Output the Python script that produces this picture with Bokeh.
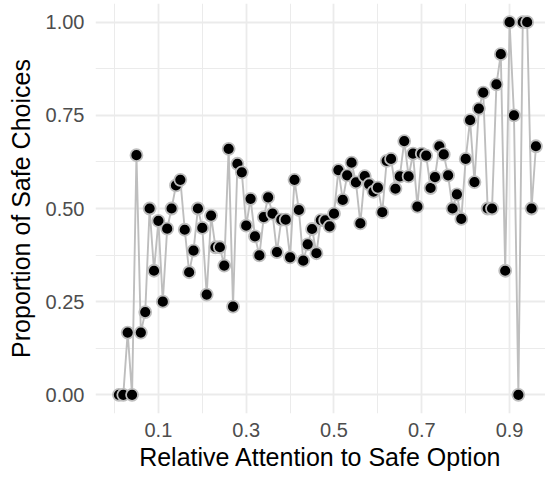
from bokeh.plotting import figure
from bokeh.models import Range1d, FixedTicker, NumeralTickFormatter, ColumnDataSource
from bokeh.embed import file_html
from bokeh.resources import INLINE

attention = [0.01, 0.02, 0.03, 0.04, 0.05, 0.06, 0.07, 0.08, 0.09, 0.10,
             0.11, 0.12, 0.13, 0.14, 0.15, 0.16, 0.17, 0.18, 0.19, 0.20,
             0.21, 0.22, 0.23, 0.24, 0.25, 0.26, 0.27, 0.28, 0.29, 0.30,
             0.31, 0.32, 0.33, 0.34, 0.35, 0.36, 0.37, 0.38, 0.39, 0.40,
             0.41, 0.42, 0.43, 0.44, 0.45, 0.46, 0.47, 0.48, 0.49, 0.50,
             0.51, 0.52, 0.53, 0.54, 0.55, 0.56, 0.57, 0.58, 0.59, 0.60,
             0.61, 0.62, 0.63, 0.64, 0.65, 0.66, 0.67, 0.68, 0.69, 0.70,
             0.71, 0.72, 0.73, 0.74, 0.75, 0.76, 0.77, 0.78, 0.79, 0.80,
             0.81, 0.82, 0.83, 0.84, 0.85, 0.86, 0.87, 0.88, 0.89, 0.90,
             0.91, 0.92, 0.93, 0.94, 0.95, 0.96]

prop_safe = [0.0, 0.0, 0.167, 0.0, 0.643, 0.167, 0.222, 0.5, 0.333, 0.467,
             0.25, 0.446, 0.5, 0.562, 0.577, 0.443, 0.329, 0.387, 0.5, 0.448,
             0.269, 0.481, 0.396, 0.396, 0.347, 0.66, 0.237, 0.62, 0.597, 0.454,
             0.526, 0.425, 0.374, 0.477, 0.53, 0.486, 0.383, 0.47, 0.47, 0.369,
             0.577, 0.496, 0.36, 0.404, 0.445, 0.38, 0.469, 0.468, 0.452, 0.486,
             0.603, 0.523, 0.589, 0.623, 0.57, 0.46, 0.587, 0.565, 0.545, 0.556,
             0.49, 0.628, 0.633, 0.553, 0.586, 0.681, 0.586, 0.647, 0.505, 0.647,
             0.642, 0.555, 0.584, 0.667, 0.645, 0.589, 0.5, 0.538, 0.472, 0.633,
             0.737, 0.571, 0.768, 0.811, 0.5, 0.5, 0.833, 0.914, 0.333, 1.0,
             0.75, 0.0, 1.0, 1.0, 0.5, 0.667]

x_major_ticks = [0.1, 0.3, 0.5, 0.7, 0.9]
x_minor_ticks = [0.0, 0.2, 0.4, 0.6, 0.8, 1.0]
y_major_ticks = [0.0, 0.25, 0.5, 0.75, 1.0]
y_minor_ticks = [0.125, 0.375, 0.625, 0.875]

FONT = "Liberation Sans"

src = ColumnDataSource(dict(x=attention, y=prop_safe))

p = figure(width=545, height=477, output_backend="svg", toolbar_location=None,
           x_range=Range1d(-0.0433, 0.9818), y_range=Range1d(-0.05, 1.05),
           min_border_left=95, min_border_right=0, min_border_top=3,
           min_border_bottom=64)
p.outline_line_color = None
p.background_fill_color = "white"
p.border_fill_color = "white"

p.line("x", "y", source=src, line_color="#BEBEBE", line_width=1.9)
p.scatter("x", "y", source=src, size=12, fill_color="black",
          line_color="#BEBEBE", line_width=1.8)

p.xaxis.ticker = FixedTicker(ticks=x_major_ticks, minor_ticks=x_minor_ticks)
p.yaxis.ticker = FixedTicker(ticks=y_major_ticks, minor_ticks=y_minor_ticks)
p.yaxis.formatter = NumeralTickFormatter(format="0.00")

for ax in (p.xaxis, p.yaxis):
    ax.axis_line_color = None
    ax.major_tick_line_color = None
    ax.minor_tick_line_color = None
    ax.major_tick_out = 0
    ax.minor_tick_out = 0
    ax.major_label_text_font = FONT
    ax.major_label_text_font_size = "20px"
    ax.major_label_text_color = "#4D4D4D"
    ax.axis_label_text_font = FONT
    ax.axis_label_text_font_size = "25px"
    ax.axis_label_text_font_style = "normal"
    ax.axis_label_text_color = "black"

p.xaxis.axis_label = "Relative Attention to Safe Option"
p.yaxis.axis_label = "Proportion of Safe Choices"
p.xaxis.major_label_standoff = 9
p.xaxis.axis_label_standoff = 3
p.yaxis.major_label_standoff = 11
p.yaxis.axis_label_standoff = 8

for g in (p.xgrid, p.ygrid):
    g.grid_line_color = "#EBEBEB"
    g.grid_line_width = 1.8
    g.minor_grid_line_color = "#EBEBEB"
    g.minor_grid_line_width = 1.0

open("out.html", "w").write(file_html(p, INLINE))
